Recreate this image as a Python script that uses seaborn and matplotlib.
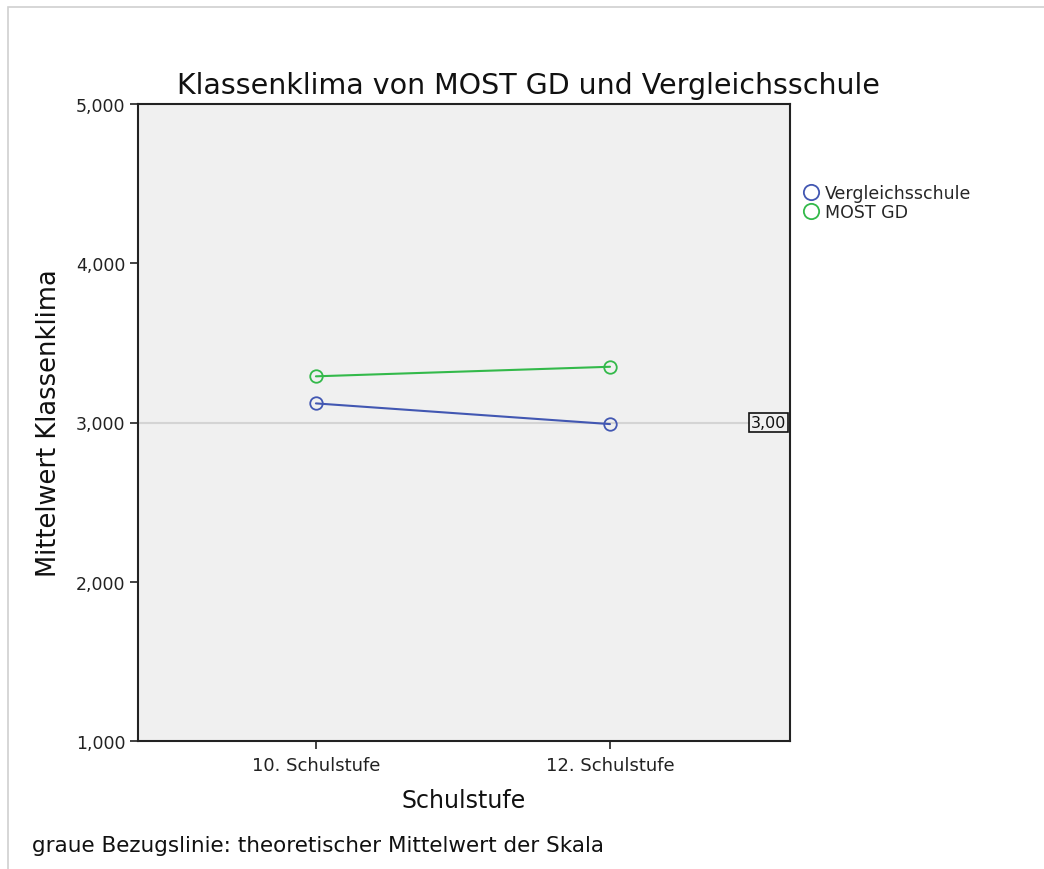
import matplotlib
matplotlib.use("Agg")
import matplotlib.pyplot as plt
import seaborn as sns
import pandas as pd
from matplotlib.lines import Line2D
from matplotlib.patches import Rectangle

categories = ["10. Schulstufe", "12. Schulstufe"]
vergleich = [3.12, 2.99]
most = [3.29, 3.35]
series = ["Vergleichsschule", "MOST GD"]
colors = {"Vergleichsschule": "#4257b2", "MOST GD": "#33b94a"}
yticks = [1, 2, 3, 4, 5]
ytick_labels = ["1,000", "2,000", "3,000", "4,000", "5,000"]
ref_value = 3.0

df = pd.DataFrame({
    "Schulstufe": categories * 2,
    "Wert": vergleich + most,
    "Gruppe": [series[0]] * 2 + [series[1]] * 2,
})

sns.set_theme(style="white")
plt.rcParams['font.family'] = ['DejaVu Sans']

fig = plt.figure(figsize=(10.44, 8.7), dpi=100)
ax = fig.add_axes([138/1044, 1-742/870, (790-138)/1044, (742-105)/870])
ax.set_facecolor("#f0f0f0")

ax.axhline(ref_value, color="#d4d4d4", lw=1.5, zorder=1)

for s in series:
    sns.lineplot(data=df[df["Gruppe"] == s], x="Schulstufe", y="Wert", color=colors[s],
                 marker="o", markersize=9, markerfacecolor="none",
                 markeredgecolor=colors[s], markeredgewidth=1.3,
                 lw=1.5, legend=False, ax=ax, zorder=3)

ax.set_xlim(-0.605, 1.612)
ax.set_ylim(1, 5)
ax.set_yticks(yticks)
ax.set_yticklabels(ytick_labels, fontsize=12.5, color="#222222")
ax.set_xticks([0, 1])
ax.set_xticklabels(categories, fontsize=13, color="#222222")
ax.tick_params(axis="both", direction="out", length=6, width=1.2, color="#222222",
               bottom=True, left=True, pad=3)
ax.tick_params(axis="x", pad=5)
for sp in ax.spines.values():
    sp.set_color("#222222")
    sp.set_linewidth(1.5)

ax.set_xlabel("Schulstufe", fontsize=17, color="#111111", labelpad=10)
ax.set_ylabel("Mittelwert Klassenklima", fontsize=18.5, color="#111111", labelpad=10)
fig.text(528/1044, 1-86/870, "Klassenklima von MOST GD und Vergleichsschule",
         fontsize=20.5, color="#111111", ha="center", va="center")

ax.text(1.60, ref_value, "3,00", fontsize=11.5, ha="right", va="center",
        color="#111111",
        bbox=dict(boxstyle="square,pad=0.1", facecolor="#f0f0f0", edgecolor="#111111", lw=1.2),
        zorder=5)

handles = [Line2D([], [], ls="none", marker="o", markersize=11, markerfacecolor="none",
                  markeredgecolor=colors[s], markeredgewidth=1.3) for s in series]
fig.legend(handles, series, loc="upper left", bbox_to_anchor=(792/1044, 1-176/870),
           frameon=False, fontsize=12.5, handletextpad=0.2, labelspacing=0.1,
           borderpad=0, handlelength=1.2)

fig.text(32/1044, 1-846/870, "graue Bezugslinie: theoretischer Mittelwert der Skala",
         fontsize=15.5, color="#111111", va="center", ha="left")

fig.patches.append(Rectangle((8/1044, -0.01), 1.1, 1 - 8/870 + 0.01, transform=fig.transFigure,
                             fill=False, edgecolor="#d0d0d0", lw=1.2))

fig.savefig("out.png", dpi=100, facecolor="white")
